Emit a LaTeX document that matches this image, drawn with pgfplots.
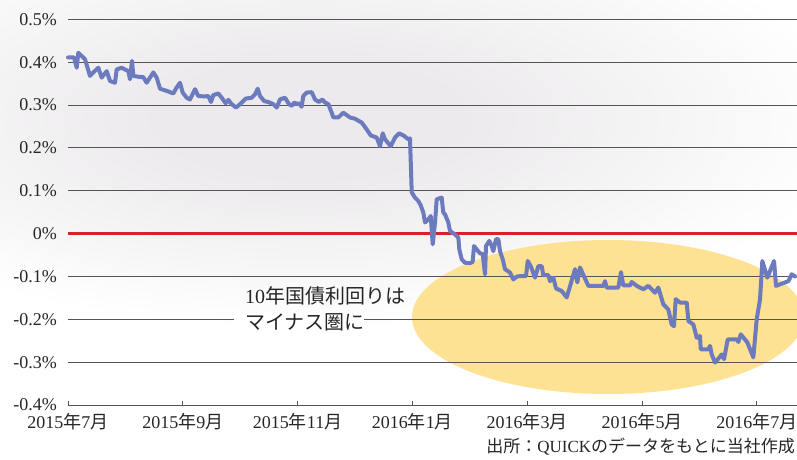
\documentclass[border=0pt]{standalone}
\usepackage{fontspec}
\setmainfont{Liberation Serif}
\newfontfamily\jp{Noto Sans CJK JP}
\usepackage{pgfplots}
\pgfplotsset{compat=1.18}
\definecolor{lineblue}{RGB}{108,122,190}
\definecolor{zeroRed}{RGB}{218,32,40}
\definecolor{ellyellow}{RGB}{253,226,148}
\definecolor{gridgray}{RGB}{85,85,85}
\definecolor{bggray}{RGB}{236,234,236}
\pgfdeclareradialshading{bgshade}{\pgfpoint{0bp}{0bp}}{color(0bp)=(bggray); color(7bp)=(bggray); color(25bp)=(white); color(50bp)=(white)}
\begin{document}
\begin{tikzpicture}[x=1pt,y=1pt]
\useasboundingbox (0,0) rectangle (797,459);
\begin{scope}
\clip (0,0) rectangle (797,459);
\fill[white] (0,0) rectangle (797,459);
\begin{scope}[shift={(310,340)}, xscale=2.6]
\shade[shading=bgshade] (0,0) circle (210);
\end{scope}
\end{scope}
% highlighted region (negative yields)
\fill[ellyellow] (608,142) ellipse [x radius=196, y radius=77];
\begin{axis}[
  at={(68pt,54pt)}, anchor=south west,
  scale only axis, width=729pt, height=385.7pt,
  xmin=0, xmax=12.7, ymin=-0.4, ymax=0.5,
  axis line style={draw=none},
  ymajorgrids, grid style={gridgray, line width=1pt},
  ytick={-0.4,-0.3,-0.2,-0.1,0,0.1,0.2,0.3,0.4,0.5},
  yticklabels={-0.4\%,-0.3\%,-0.2\%,-0.1\%,0\%,0.1\%,0.2\%,0.3\%,0.4\%,0.5\%},
  ytick style={draw=none},
  xtick={0,2,4,6,8,10,12},
  xticklabels={2015{\jp 年}7{\jp 月},2015{\jp 年}9{\jp 月},2015{\jp 年}11{\jp 月},2016{\jp 年}1{\jp 月},2016{\jp 年}3{\jp 月},2016{\jp 年}5{\jp 月},2016{\jp 年}7{\jp 月}},
  xtick pos=bottom, xtick align=inside, major tick length=4pt,
  xtick style={gridgray, line width=0.8pt},
  tick label style={font=\fontsize{18}{20}\selectfont, text=black!85},
  yticklabel style={anchor=east, inner sep=0pt, xshift=-11pt},
  xticklabel style={anchor=north, inner sep=0pt, yshift=-8pt},
  clip=false,
]
\addplot[zeroRed, line width=3pt] coordinates {(0,0) (12.7,0)};
\addplot[lineblue, line width=4pt, line join=round, line cap=round] coordinates {
(0.000,0.411) (0.105,0.411) (0.152,0.387) (0.179,0.422) (0.296,0.407)
(0.383,0.368) (0.441,0.376) (0.528,0.387) (0.587,0.364) (0.674,0.379)
(0.732,0.356) (0.819,0.352) (0.848,0.383) (0.936,0.387) (1.051,0.379)
(1.080,0.360) (1.115,0.403) (1.138,0.368) (1.225,0.366) (1.312,0.365)
(1.371,0.352) (1.486,0.376) (1.545,0.364) (1.603,0.338) (1.720,0.333)
(1.834,0.327) (1.894,0.341) (1.951,0.352) (1.998,0.329) (2.068,0.317)
(2.125,0.313) (2.213,0.337) (2.270,0.321) (2.387,0.320) (2.444,0.321)
(2.491,0.307) (2.531,0.323) (2.618,0.327) (2.678,0.317) (2.747,0.304)
(2.793,0.312) (2.852,0.302) (2.927,0.294) (2.997,0.302) (3.096,0.315)
(3.200,0.317) (3.258,0.325) (3.305,0.338) (3.345,0.321) (3.420,0.309)
(3.490,0.307) (3.577,0.302) (3.636,0.294) (3.693,0.313) (3.780,0.317)
(3.850,0.302) (3.897,0.298) (3.943,0.306) (3.984,0.302) (4.024,0.304)
(4.071,0.296) (4.099,0.321) (4.158,0.329) (4.245,0.330) (4.303,0.313)
(4.373,0.307) (4.430,0.313) (4.477,0.306) (4.535,0.302) (4.594,0.282)
(4.622,0.271) (4.709,0.271) (4.796,0.282) (4.913,0.271) (5.000,0.268)
(5.117,0.259) (5.204,0.243) (5.274,0.229) (5.378,0.224) (5.436,0.204)
(5.483,0.234) (5.523,0.220) (5.622,0.204) (5.697,0.224) (5.767,0.234)
(5.854,0.228) (5.929,0.220) (5.958,0.222) (5.988,0.096) (6.045,0.084)
(6.103,0.076) (6.145,0.066) (6.190,0.049) (6.220,0.026) (6.277,0.033)
(6.319,0.041) (6.354,-0.025) (6.394,0.026) (6.423,0.080) (6.510,0.084)
(6.538,0.049) (6.568,0.045) (6.625,0.026) (6.655,0.006) (6.742,-0.002)
(6.800,-0.009) (6.817,-0.037) (6.859,-0.060) (6.916,-0.068) (7.003,-0.069)
(7.050,-0.066) (7.073,-0.029) (7.120,-0.037) (7.178,-0.046) (7.225,-0.048)
(7.265,-0.095) (7.282,-0.029) (7.340,-0.017) (7.382,-0.029) (7.409,-0.041)
(7.456,-0.013) (7.497,-0.013) (7.526,-0.041) (7.573,-0.060) (7.613,-0.083)
(7.700,-0.091) (7.758,-0.107) (7.822,-0.100) (7.904,-0.099) (7.979,-0.099)
(8.009,-0.064) (8.061,-0.076) (8.136,-0.103) (8.194,-0.076) (8.253,-0.076)
(8.280,-0.097) (8.368,-0.097) (8.397,-0.111) (8.455,-0.103) (8.502,-0.128)
(8.601,-0.134) (8.688,-0.149) (8.833,-0.083) (8.873,-0.114) (8.920,-0.079)
(9.064,-0.122) (9.326,-0.122) (9.355,-0.111) (9.385,-0.126) (9.587,-0.126)
(9.634,-0.090) (9.674,-0.121) (9.791,-0.121) (9.821,-0.113) (9.908,-0.122)
(10.023,-0.130) (10.110,-0.122) (10.226,-0.138) (10.284,-0.126) (10.371,-0.165)
(10.458,-0.177) (10.517,-0.212) (10.557,-0.216) (10.587,-0.153) (10.662,-0.161)
(10.779,-0.161) (10.807,-0.204) (10.894,-0.212) (10.953,-0.243) (11.010,-0.239)
(11.023,-0.270) (11.155,-0.270) (11.185,-0.262) (11.214,-0.282) (11.272,-0.301)
(11.329,-0.292) (11.388,-0.282) (11.429,-0.293) (11.493,-0.247) (11.650,-0.247)
(11.678,-0.253) (11.720,-0.235) (11.835,-0.254) (11.939,-0.289) (11.998,-0.200)
(12.056,-0.153) (12.096,-0.064) (12.183,-0.103) (12.300,-0.064) (12.334,-0.122)
(12.549,-0.111) (12.608,-0.095) (12.666,-0.100)
};
\end{axis}
\fill[white] (234,132) rectangle (364,146);
\node[anchor=west, inner sep=0pt, font=\fontsize{20}{24}\selectfont, text=black!85] at (245,163) {10{\jp 年国債利回りは}};
\node[anchor=west, inner sep=0pt, font=\fontsize{20}{24}\selectfont, text=black!85] at (245,137) {{\jp マイナス圏に}};
\node[anchor=east, inner sep=0pt, font=\fontsize{17}{20}\selectfont, text=black!85] at (795,12) {{\jp 出所：}QUICK{\jp のデータをもとに当社作成}};
\end{tikzpicture}
\end{document}
